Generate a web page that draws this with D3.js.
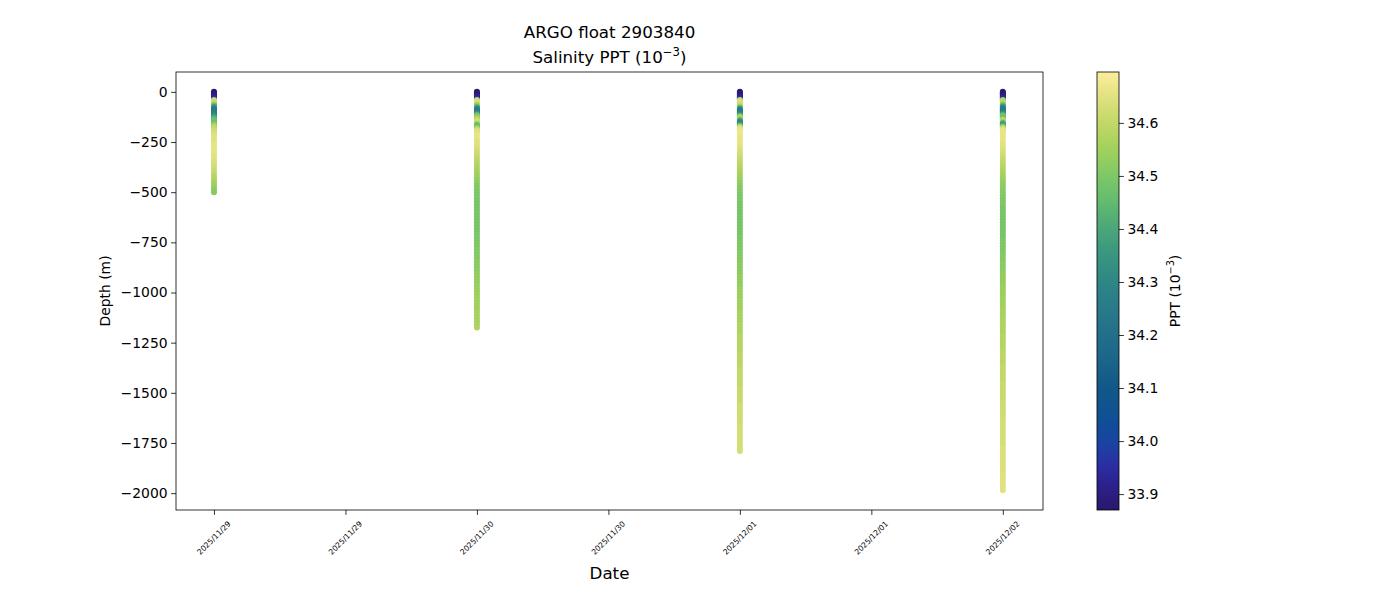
<!DOCTYPE html>
<html>
<head>
<meta charset="utf-8">
<script src="https://cdn.jsdelivr.net/npm/d3@7"></script>
<style>
  html, body { margin: 0; padding: 0; background: #fff; }
  svg { display: block; }
  text { font-family: "DejaVu Sans", sans-serif; fill: #000; }
</style>
</head>
<body>
<svg id="chart" width="1400" height="600"></svg>
<script>
// ---------------- DATA ----------------
const titleLine1 = "ARGO float 2903840";
const titleLine2 = "Salinity PPT (10";
const profileDates = ["2025-11-29T00:00:00Z", "2025-11-30T00:00:00Z", "2025-12-01T00:00:00Z", "2025-12-02T00:00:00Z"];

// sampling depths (m, positive down)
const levels = [0,5,10,15,20,25,30,35,40,45,50,55,60,65,70,75,80,85,90,95,100,105,110,115,120,125,130,135,140,145,150,155,160,165,170,175,180,185,190,195,200,
  215,230,245,260,275,290,305,320,335,350,
  365,380,395,410,425,440,455,470,485,500,
  515,530,545,560,575,590,605,620,635,650,
  665,680,695,710,725,740,755,770,785,800,
  815,830,845,860,875,890,905,920,935,950,
  965,980,995,1010,1025,1040,1055,1070,1085,1100,
  1115,1130,1145,1160,1175,1190,1205,1220,1235,1250,
  1265,1280,1295,1310,1325,1340,1355,1370,1385,1400,
  1415,1430,1445,1460,1475,1490,1505,1520,1535,1550,
  1565,1580,1595,1610,1625,1640,1655,1670,1685,1700,
  1715,1730,1745,1760,1775,1790,1805,1820,1835,1850,
  1865,1880,1895,1910,1925,1940,1955,1970,1985];

const salinity1 = [33.88,33.88,33.89,33.89,33.90,33.92,
  33.93,33.96,34.58,34.62,34.62,34.60,34.58,34.52,34.45,34.38,34.32,34.28,34.25,34.24,34.25,34.27,34.28,34.30,34.32,34.36,34.40,34.44,34.46,34.47,34.47,34.46,34.48,34.52,34.56,34.58,34.60,34.60,34.61,34.62,34.63,
  34.64,34.65,34.65,34.66,34.66,34.66,34.66,34.65,34.65,34.64,
  34.63,34.62,34.61,34.60,34.58,34.57,34.55,34.54,34.52,34.51];

const salinity2 = [33.88,33.88,33.88,33.89,33.90,33.93,
  33.93,33.96,34.60,34.63,34.64,34.63,34.62,34.58,34.52,34.45,34.38,34.30,34.26,34.25,34.26,34.30,34.36,34.44,34.50,34.52,34.55,34.58,34.60,34.62,34.63,34.62,34.55,34.48,34.45,34.47,34.52,34.58,34.62,34.64,34.65,
  34.66,34.66,34.65,34.65,34.64,34.63,34.62,34.61,34.60,34.59,
  34.58,34.57,34.56,34.55,34.54,34.53,34.52,34.51,34.51,34.50,
  34.50,34.50,34.49,34.49,34.49,34.49,34.49,34.49,34.49,34.49,
  34.49,34.49,34.49,34.50,34.50,34.50,34.50,34.50,34.51,34.51,
  34.51,34.51,34.52,34.52,34.52,34.52,34.53,34.53,34.53,34.53,
  34.54,34.54,34.54,34.54,34.55,34.55,34.55,34.55,34.55,34.56,
  34.56,34.56,34.56,34.56,34.57];

const salinity3 = [33.88,33.88,33.89,33.89,33.90,33.92,
  33.93,33.96,34.60,34.63,34.64,34.64,34.63,34.62,34.60,34.55,34.45,34.35,34.28,34.25,34.25,34.27,34.30,34.35,34.45,34.55,34.58,34.55,34.48,34.38,34.32,34.30,34.32,34.38,34.48,34.58,34.63,34.65,34.66,34.66,34.67,
  34.67,34.66,34.66,34.66,34.65,34.64,34.63,34.62,34.61,34.60,
  34.59,34.58,34.57,34.56,34.55,34.54,34.53,34.52,34.51,34.51,
  34.50,34.50,34.50,34.49,34.49,34.49,34.49,34.49,34.49,34.49,
  34.49,34.49,34.49,34.49,34.50,34.50,34.50,34.50,34.50,34.51,
  34.51,34.51,34.51,34.52,34.52,34.52,34.52,34.53,34.53,34.53,
  34.53,34.54,34.54,34.54,34.54,34.55,34.55,34.55,34.55,34.56,
  34.56,34.56,34.56,34.57,34.57,34.57,34.57,34.58,34.58,34.58,
  34.58,34.58,34.58,34.59,34.59,34.59,34.59,34.59,34.60,34.60,
  34.60,34.60,34.60,34.60,34.61,34.61,34.61,34.61,34.61,34.61,
  34.62,34.62,34.62,34.62,34.62,34.62,34.62,34.63,34.63,34.63,
  34.63,34.63,34.63,34.63,34.63,34.63];

const salinity4 = [33.88,33.88,33.89,33.89,33.90,33.91,33.93,
  33.96,34.55,34.58,34.60,34.58,34.55,34.50,34.42,34.35,34.30,34.27,34.25,34.24,34.26,34.30,34.35,34.42,34.50,34.48,34.45,34.52,34.58,34.60,34.55,34.45,34.38,34.36,34.42,34.52,34.60,34.63,34.65,34.66,34.66,
  34.66,34.66,34.66,34.65,34.65,34.64,34.63,34.62,34.61,34.60,
  34.59,34.58,34.57,34.56,34.55,34.54,34.53,34.52,34.52,34.51,
  34.51,34.50,34.50,34.50,34.49,34.49,34.49,34.49,34.49,34.49,
  34.49,34.49,34.49,34.49,34.49,34.50,34.50,34.50,34.50,34.50,
  34.51,34.51,34.51,34.52,34.52,34.52,34.53,34.53,34.53,34.53,
  34.54,34.54,34.54,34.54,34.55,34.55,34.55,34.55,34.56,34.56,
  34.56,34.56,34.57,34.57,34.57,34.57,34.57,34.58,34.58,34.58,
  34.58,34.58,34.59,34.59,34.59,34.59,34.59,34.60,34.60,34.60,
  34.60,34.60,34.60,34.61,34.61,34.61,34.61,34.61,34.61,34.62,
  34.62,34.62,34.62,34.62,34.62,34.63,34.63,34.63,34.63,34.63,
  34.63,34.63,34.63,34.63,34.64,34.64,34.64,34.64,34.64,34.64,
  34.64,34.64,34.64,34.65,34.65,34.65,34.65,34.65,34.65];

const profiles = [salinity1, salinity2, salinity3, salinity4];

const yTicks = [0, -250, -500, -750, -1000, -1250, -1500, -1750, -2000];
const cbTicks = [33.9, 34.0, 34.1, 34.2, 34.3, 34.4, 34.5, 34.6];
const salRange = [33.87, 34.696];
const depthRange = [-2084, 99];
const timeRange = ["2025-11-28T20:32:00Z", "2025-12-02T03:40:00Z"];
const tickTimes = ["2025-11-29T00:00:00Z","2025-11-29T12:00:00Z","2025-11-30T00:00:00Z","2025-11-30T12:00:00Z","2025-12-01T00:00:00Z","2025-12-01T12:00:00Z","2025-12-02T00:00:00Z"];

// haline-like colormap stops
const cmapStops = ["#2a186c","#2c1f88","#2b2ea2","#1b42a3","#0f4e96","#115888","#1a6589","#226f8a","#297a89","#2e8686","#38957f","#4aa57a","#60ba70","#7cc768","#a0d05c","#c0d766","#dee17f","#fdee9a"];
const cmapPos = [0,0.05,0.10,0.15,0.20,0.28,0.34,0.40,0.46,0.52,0.58,0.64,0.70,0.76,0.82,0.88,0.94,1.0];

// ---------------- LAYOUT ----------------
const svg = d3.select("#chart");
const plot = {left: 176, right: 1043, top: 72, bottom: 510};
const cb = {left: 1097, right: 1119, top: 72, bottom: 510};

const parse = d3.isoParse;
const x = d3.scaleUtc().domain(timeRange.map(parse)).range([plot.left, plot.right]);
const y = d3.scaleLinear().domain(depthRange).range([plot.bottom, plot.top]);

const fracScale = d3.scaleLinear().domain(cmapPos).range(cmapStops).interpolate(d3.interpolateRgb);
const norm = d3.scaleLinear().domain(salRange).range([0, 1]).clamp(true);
const color = v => fracScale(norm(v));

// points
const pts = [];
profiles.forEach((sal, i) => {
  sal.forEach((s, j) => pts.push({t: parse(profileDates[i]), d: -levels[j], s}));
});

svg.append("g").selectAll("circle").data(pts).join("circle")
  .attr("cx", d => x(d.t))
  .attr("cy", d => y(d.d))
  .attr("r", 3)
  .attr("fill", d => color(d.s));

// axes frame
svg.append("rect").attr("x", plot.left).attr("y", plot.top)
  .attr("width", plot.right - plot.left).attr("height", plot.bottom - plot.top)
  .attr("fill", "none").attr("stroke", "#000").attr("stroke-width", 0.8);

const fmtNum = d => d < 0 ? "\u2212" + Math.abs(d) : String(d);

// y axis
const yAxis = svg.append("g").attr("transform", `translate(${plot.left},0)`)
  .call(d3.axisLeft(y).tickValues(yTicks).tickSize(4.9).tickPadding(3.5).tickFormat(fmtNum));
yAxis.select(".domain").remove();
yAxis.selectAll("line").attr("stroke", "#000").attr("stroke-width", 0.8);
yAxis.selectAll("text").style("font-family", "DejaVu Sans").style("font-size", "13.9px").attr("fill", "#000");

// x axis
const xAxis = svg.append("g").attr("transform", `translate(0,${plot.bottom})`)
  .call(d3.axisBottom(x).tickValues(tickTimes.map(parse)).tickSize(4.9).tickFormat(""));
xAxis.select(".domain").remove();
xAxis.selectAll("line").attr("stroke", "#000").attr("stroke-width", 0.8);

const fmtDate = d3.utcFormat("%Y/%m/%d");
svg.append("g").selectAll("text").data(tickTimes.map(parse)).join("text")
  .attr("transform", d => `translate(${x(d)},${plot.bottom + 28}) rotate(-45)`)
  .attr("text-anchor", "middle").attr("dominant-baseline", "central")
  .style("font-size", "7.6px")
  .text(d => fmtDate(d));

// axis labels
svg.append("text").attr("x", (plot.left + plot.right) / 2).attr("y", 579)
  .attr("text-anchor", "middle").style("font-size", "16.7px").text("Date");
svg.append("text").attr("transform", `translate(110,${(plot.top + plot.bottom) / 2}) rotate(-90)`)
  .attr("text-anchor", "middle").style("font-size", "13.9px").text("Depth (m)");

// titles
svg.append("text").attr("x", (plot.left + plot.right) / 2).attr("y", 38)
  .attr("text-anchor", "middle").style("font-size", "16.7px").text(titleLine1);
const t2 = svg.append("text").attr("x", (plot.left + plot.right) / 2).attr("y", 63)
  .attr("text-anchor", "middle").style("font-size", "16.7px");
t2.append("tspan").text(titleLine2);
t2.append("tspan").attr("dy", -7).style("font-size", "11.7px").text("\u22123");
t2.append("tspan").attr("dy", 7).text(")");

// colorbar
const defs = svg.append("defs");
const grad = defs.append("linearGradient").attr("id", "cbgrad")
  .attr("x1", 0).attr("y1", 1).attr("x2", 0).attr("y2", 0);
cmapPos.forEach((p, i) => grad.append("stop").attr("offset", p).attr("stop-color", cmapStops[i]));
svg.append("rect").attr("x", cb.left).attr("y", cb.top)
  .attr("width", cb.right - cb.left).attr("height", cb.bottom - cb.top)
  .attr("fill", "url(#cbgrad)").attr("stroke", "#000").attr("stroke-width", 0.8);

const cy = d3.scaleLinear().domain(salRange).range([cb.bottom, cb.top]);
const cbAxis = svg.append("g").attr("transform", `translate(${cb.right},0)`)
  .call(d3.axisRight(cy).tickValues(cbTicks).tickSize(4.9).tickPadding(3.5).tickFormat(d3.format(".1f")));
cbAxis.select(".domain").remove();
cbAxis.selectAll("line").attr("stroke", "#000").attr("stroke-width", 0.8);
cbAxis.selectAll("text").style("font-family", "DejaVu Sans").style("font-size", "13.9px").attr("fill", "#000");

const cbl = svg.append("text").attr("transform", `translate(1180,${(cb.top + cb.bottom) / 2}) rotate(-90)`)
  .attr("text-anchor", "middle").style("font-size", "13.9px");
cbl.append("tspan").text("PPT (10");
cbl.append("tspan").attr("dy", -6).style("font-size", "9.7px").text("\u22123");
cbl.append("tspan").attr("dy", 6).text(")");
</script>
</body>
</html>
